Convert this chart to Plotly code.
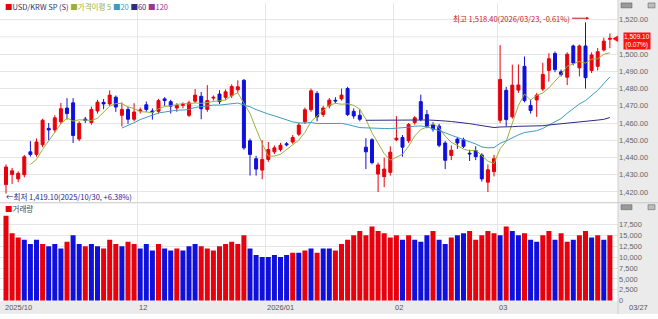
import plotly.graph_objects as go
import pandas as pd

# ---------------- data ----------------
opens = [1424.3,1430.1,1427.6,1430.0,1443.3,1441.8,1447.4,1456.9,1456.0,1460.7,
         1468.7,1471.7,1450.7,1462.3,1460.3,1467.0,1472.0,1471.1,1475.0,1464.5,
         1467.9,1462.2,1467.0,1470.6,1467.0,1466.8,1474.0,1472.4,1468.7,1470.3,
         1464.5,1472.7,1475.5,1467.9,1474.5,1476.8,1474.9,1475.9,1479.3,1484.8,
         1449.7,1439.3,1432.7,1438.9,1443.3,1444.6,1448.0,1449.0,1453.5,1460.7,
         1467.7,1477.2,1464.9,1470.0,1473.2,1474.0,1480.0,1466.8,1464.5,1446.0,
         1450.3,1430.4,1428.9,1431.4,1450.3,1451.6,1449.7,1460.3,1472.4,1464.9,
         1458.8,1458.2,1448.4,1441.2,1450.7,1450.3,1442.5,1444.0,1441.4,1425.7,
         1431.8,1461.6,1479.0,1463.6,1479.1,1492.9,1470.2,1473.4,1479.7,1490.5,
         1500.3,1489.7,1486.6,1504.7,1492.0,1504.7,1490.5,1492.9,1502.4,1508.6]
highs = [1436.0,1434.0,1432.0,1441.5,1449.5,1451.0,1462.5,1460.0,1464.5,1471.7,
         1474.4,1474.4,1461.0,1463.5,1469.5,1473.5,1474.0,1478.9,1476.0,1472.0,
         1469.5,1471.5,1469.0,1472.5,1468.5,1474.0,1475.0,1473.5,1471.5,1472.0,
         1473.0,1479.7,1478.0,1482.0,1476.0,1479.0,1479.5,1482.5,1484.8,1485.5,
         1451.0,1441.0,1450.0,1449.0,1447.0,1448.5,1449.0,1453.0,1460.0,1469.0,
         1480.0,1478.5,1470.0,1474.5,1475.0,1480.0,1481.0,1468.5,1468.0,1451.2,
         1451.2,1437.0,1440.0,1446.5,1464.0,1453.0,1460.0,1464.0,1476.5,1467.5,
         1460.5,1459.5,1449.5,1447.0,1452.0,1451.5,1444.5,1446.5,1442.5,1436.0,
         1441.5,1505.2,1481.0,1493.9,1494.0,1498.6,1473.5,1477.5,1495.0,1500.5,
         1501.5,1491.0,1501.0,1505.5,1505.5,1518.4,1501.0,1503.5,1509.5,1512.0]
lows = [1419.1,1424.7,1425.7,1428.5,1440.5,1440.5,1446.0,1450.0,1454.5,1459.5,
        1462.0,1448.4,1449.5,1460.0,1459.0,1465.5,1468.0,1470.0,1466.5,1458.0,
        1459.5,1461.0,1465.5,1466.5,1462.0,1465.5,1470.0,1465.5,1466.5,1468.5,
        1463.5,1471.5,1462.2,1466.5,1473.0,1471.0,1473.5,1474.5,1477.5,1444.5,
        1429.5,1429.5,1427.4,1437.5,1442.0,1443.5,1446.5,1448.0,1452.5,1459.5,
        1466.5,1461.0,1463.5,1468.5,1471.5,1473.0,1464.0,1462.5,1461.0,1433.3,
        1436.0,1420.0,1422.8,1429.5,1449.5,1440.5,1448.5,1459.0,1461.0,1457.0,
        1455.0,1446.0,1433.3,1438.5,1445.0,1445.5,1438.0,1438.5,1426.0,1420.0,
        1429.0,1460.0,1458.0,1462.5,1477.5,1472.0,1465.5,1463.6,1478.5,1484.0,
        1489.5,1487.0,1482.0,1493.5,1487.0,1480.0,1489.0,1490.5,1501.5,1503.4]
closes = [1434.5,1432.3,1430.8,1440.4,1441.8,1449.0,1461.6,1456.0,1463.0,1468.3,
          1465.5,1452.8,1459.8,1461.5,1467.9,1472.1,1471.1,1476.2,1469.3,1467.9,
          1462.2,1466.4,1467.5,1467.9,1466.4,1473.0,1473.0,1469.8,1470.2,1470.7,
          1471.7,1476.2,1468.3,1473.0,1474.9,1472.4,1478.1,1481.2,1481.0,1445.6,
          1441.8,1433.3,1438.9,1444.6,1445.6,1447.1,1447.4,1451.6,1458.8,1467.7,
          1478.7,1463.6,1468.7,1473.3,1472.8,1476.2,1464.9,1464.1,1462.2,1443.3,
          1437.0,1435.7,1433.3,1443.1,1451.2,1446.0,1459.2,1463.0,1462.0,1457.9,
          1456.5,1447.1,1438.4,1444.2,1448.4,1446.5,1442.1,1440.5,1427.6,1432.9,
          1439.3,1485.3,1462.0,1482.0,1482.1,1473.0,1467.3,1476.2,1488.2,1497.3,
          1491.0,1488.2,1499.9,1494.8,1504.7,1486.3,1499.5,1501.4,1507.5,1509.1]
volumes = [19500,15500,14500,14000,13000,14000,13000,12500,13000,12000,
           13500,15000,13000,12500,13000,12500,12000,14000,13000,12500,
           13500,13000,12000,13000,11500,13000,12000,11500,12000,11500,
           12500,13000,12500,12000,11500,12500,13000,13500,13000,15000,
           12000,10500,10000,10000,10500,10000,10500,11000,11000,11500,
           12000,11000,12000,12000,11500,13000,14000,15000,16000,15000,
           17000,16000,15500,14500,15000,14000,15000,14000,13500,15000,
           16000,14000,13000,14500,15000,15500,16000,14000,15000,16000,
           15500,15000,17000,16000,15000,15500,14000,13500,15000,16000,
           14000,15500,13500,14000,15000,16000,14500,15000,14000,15000]
# volume bar colour class as seen in the chart: 1 = red, -1 = blue
vol_dir = [1,1,1,-1,-1,-1,1,-1,-1,-1,
           1,-1,-1,1,-1,-1,1,1,1,-1,
           1,1,-1,-1,-1,1,-1,-1,1,-1,
           -1,-1,1,1,1,1,1,1,1,1,
           -1,-1,-1,-1,-1,-1,-1,1,-1,1,
           -1,1,-1,-1,1,1,1,1,1,1,
           1,1,1,1,1,-1,1,-1,-1,-1,
           1,-1,-1,1,-1,-1,1,1,1,1,
           1,-1,1,-1,-1,1,-1,-1,1,1,
           -1,1,1,-1,1,1,-1,1,-1,1]

tick_idx = [0, 22, 43, 64, 81]
tick_text = ["2025/10", "12", "2026/01", "02", "03"]
last_label = "03/27"
price_ticks = [1420, 1430, 1440, 1450, 1460, 1470, 1480, 1490, 1500, 1520]
vol_ticks = [0, 2500, 5000, 7500, 10000, 12500, 15000, 17500]

RED = "#e8000c"
BLUE = "#1010dc"

W, H = 658, 319
x_right = 618 / W

n = len(closes)
idx = list(range(n))
cl = pd.Series(closes)
ma5 = cl.rolling(5).mean()
ma20 = cl.rolling(20).mean()
ma60 = cl.rolling(60).mean()

fig = go.Figure()

fig.add_trace(go.Candlestick(
    x=idx, open=opens, high=highs, low=lows, close=closes,
    increasing=dict(line=dict(color=RED, width=1), fillcolor=RED),
    decreasing=dict(line=dict(color=BLUE, width=1), fillcolor=BLUE),
    whiskerwidth=0, xaxis="x", yaxis="y", showlegend=False, hoverinfo="skip"))

for s, c in [(ma5, "#9bb03a"), (ma20, "#3a9cc4"), (ma60, "#2c2c80")]:
    fig.add_trace(go.Scatter(x=idx, y=s, mode="lines", line=dict(color=c, width=1),
                             xaxis="x", yaxis="y", showlegend=False, hoverinfo="skip"))

vcol = [RED if d > 0 else BLUE for d in vol_dir]
fig.add_trace(go.Bar(x=idx, y=volumes, marker=dict(color=vcol, line=dict(width=0)),
                     xaxis="x2", yaxis="y2", showlegend=False, hoverinfo="skip"))

# geometry: index i at px 6 + 6.1 i
xr = [-6 / 6.1, (618 - 6) / 6.1]
grid_x = [t - 0.5 for t in tick_idx[1:]]

main_top, main_bot = 3, 205
vol_top, vol_bot = 207, 305.5
def py(p):
    return 1 - p / H

y_rng = [1420 - (main_bot - 195) / 1.76, 1520 + (20 - main_top) / 1.76]

axis_common = dict(showline=False, zeroline=False, gridcolor="#e6e6e6", gridwidth=1)
fig.update_layout(
    width=W, height=H, margin=dict(l=0, r=0, t=0, b=0),
    paper_bgcolor="white", plot_bgcolor="white",
    font=dict(family="Noto Sans CJK KR, DejaVu Sans", size=8, color="#555"),
    bargap=0.18,
    xaxis=dict(domain=[0, x_right], range=xr, tickvals=grid_x, showticklabels=False,
               ticks="", rangeslider=dict(visible=False), anchor="y", **axis_common),
    xaxis2=dict(domain=[0, x_right], range=xr, tickvals=grid_x, showticklabels=False,
                ticks="", anchor="y2", matches="x", **axis_common),
    yaxis=dict(domain=[py(main_bot), py(main_top)], side="right", range=y_rng,
               tickvals=price_ticks, tickformat=",.2f", ticks="",
               tickfont=dict(family="Liberation Sans, Arial", size=7.5, color="#666"),
               anchor="x", **axis_common),
    yaxis2=dict(domain=[py(vol_bot), py(vol_top)], side="right",
                range=[0, 17500 * (vol_bot - vol_top) / (vol_bot - 228)],
                tickvals=vol_ticks, tickformat=",d", ticks="",
                tickfont=dict(family="Liberation Sans, Arial", size=7.5, color="#666"),
                anchor="x2", **axis_common),
)

shapes = [
    dict(type="rect", xref="paper", yref="paper", x0=x_right, x1=1, y0=0, y1=1,
         fillcolor="#ebebeb", line=dict(width=0), layer="below"),
    dict(type="rect", xref="paper", yref="paper", x0=0, x1=1, y0=0, y1=py(306),
         fillcolor="#ebebeb", line=dict(width=0), layer="below"),
    dict(type="line", xref="x", yref="y", x0=xr[0], x1=xr[1], y0=1510, y1=1510,
         line=dict(color="#e6e6e6", width=1), layer="below"),
    dict(type="line", xref="paper", yref="paper", x0=0, x1=1, y0=py(206), y1=py(206),
         line=dict(color="#c8c8c8", width=1)),
    dict(type="line", xref="paper", yref="paper", x0=x_right, x1=x_right, y0=0, y1=1,
         line=dict(color="#d0d0d0", width=1)),
]
# small toolbar icons in the right panel
for yy in (5, 210):
    shapes.append(dict(type="rect", xref="paper", yref="paper", x0=621 / W, x1=632 / W,
                       y0=py(yy + 3), y1=py(yy - 2), fillcolor="#9a9a9a",
                       line=dict(color="#555", width=0.5)))
    shapes.append(dict(type="rect", xref="paper", yref="paper", x0=648 / W, x1=655 / W,
                       y0=py(yy + 3), y1=py(yy - 2), fillcolor="#bdbdbd",
                       line=dict(color="#555", width=0.5)))
fig.update_layout(shapes=shapes)

ann = []
# legend text
ann.append(dict(xref="paper", yref="paper", x=3 / W, y=py(7), xanchor="left", yanchor="middle",
                showarrow=False, font=dict(size=7.5, color="#33335a"),
                text="<span style='color:#e8000c'>■</span>USD/KRW SP (S) "
                     "<span style='color:#9bb03a'>■가격이평 5</span> "
                     "<span style='color:#3a9cc4'>■20</span> "
                     "<span style='color:#2c2c80'>■60</span> "
                     "<span style='color:#a0309a'>■120</span>"))
ann.append(dict(xref="paper", yref="paper", x=3 / W, y=py(212), xanchor="left", yanchor="middle",
                showarrow=False, font=dict(size=7.5, color="#444"),
                text="<span style='color:#e8000c'>■</span>거래량"))
# high / low marks
ann.append(dict(xref="x", yref="y", x=95.6, y=1520.8, ax=-17, ay=0, xanchor="right",
                showarrow=True, arrowhead=2, arrowsize=0.6, arrowwidth=1, arrowcolor="#c01818",
                font=dict(size=7.5, color="#c01818"), text="최고 1,518.40(2026/03/23, -0.61%)"))
ann.append(dict(xref="paper", yref="paper", x=4 / W, y=py(200), xanchor="left", yanchor="middle",
                showarrow=False, font=dict(size=7.5, color="#23238e"),
                text="←최저 1,419.10(2025/10/30, +6.38%)"))
# current price box
ann.append(dict(xref="paper", yref="y", x=623 / W, y=closes[-1] - 1.5, xanchor="left", yanchor="middle",
                showarrow=False, bgcolor="#ff1010", borderpad=0,
                font=dict(family="Liberation Sans, Arial", size=6.5, color="white"),
                text="1,509.10<br>(0.07%)"))
ann.append(dict(xref="paper", yref="y", x=621 / W, y=closes[-1] + 0.5, xanchor="right", yanchor="middle",
                showarrow=False, font=dict(size=7, color="#ff1010"), text="◀"))
# x tick labels
for t, s in zip(tick_idx, tick_text):
    xv = t - 0.5 if t > 0 else -0.55
    ann.append(dict(xref="x", yref="paper", x=xv, y=py(312), xanchor="left", yanchor="middle",
                    showarrow=False, font=dict(family="Liberation Sans, Arial", size=7.5, color="#555"),
                    text=s))
ann.append(dict(xref="paper", yref="paper", x=627 / W, y=py(312), xanchor="left", yanchor="middle",
                showarrow=False, font=dict(family="Liberation Sans, Arial", size=7.5, color="#555"),
                text=last_label))
fig.update_layout(annotations=ann)

fig.write_html("out.html")
